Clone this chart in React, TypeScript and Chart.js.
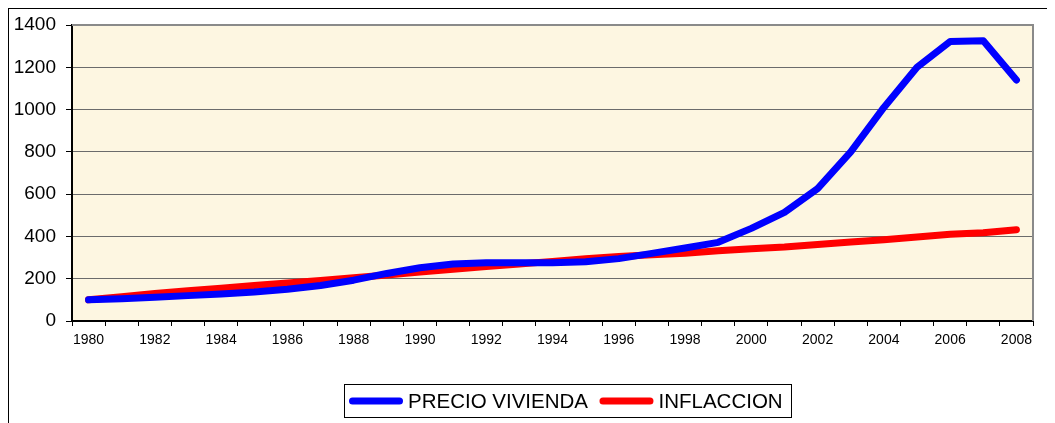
import React, { useEffect, useRef } from "react";
import { Chart, registerables } from "chart.js";

Chart.register(...registerables);

const years = [
  "1980", "1981", "1982", "1983", "1984", "1985", "1986", "1987", "1988", "1989",
  "1990", "1991", "1992", "1993", "1994", "1995", "1996", "1997", "1998", "1999",
  "2000", "2001", "2002", "2003", "2004", "2005", "2006", "2007", "2008",
];

const precioVivienda = [
  100, 105, 112, 120, 128, 137, 150, 168, 193, 225,
  252, 270, 275, 275, 275, 280, 295, 320, 345, 372,
  438, 514, 626, 800, 1010, 1200, 1322, 1325, 1140,
];

const inflaccion = [
  100, 115, 130, 143, 155, 168, 180, 192, 205, 218,
  232, 245, 258, 270, 282, 295, 305, 313, 320, 332,
  342, 350, 362, 374, 384, 397, 410, 417, 432,
];

const yTicks = [0, 200, 400, 600, 800, 1000, 1200, 1400];

const FONT = "'Liberation Sans', Arial, sans-serif";

const plotFramePlugin = {
  id: "plotFrame",
  beforeDraw(chart: any) {
    const { ctx, chartArea: a } = chart;
    ctx.save();
    ctx.fillStyle = "#FDF6E1";
    ctx.fillRect(a.left, a.top, a.right - a.left, a.bottom - a.top);
    ctx.restore();
  },
  beforeDatasetsDraw(chart: any) {
    const { ctx, chartArea: a } = chart;
    ctx.save();
    ctx.strokeStyle = "#8a8a8a";
    ctx.lineWidth = 2;
    ctx.beginPath();
    ctx.moveTo(a.left, a.top);
    ctx.lineTo(a.right, a.top);
    ctx.lineTo(a.right, a.bottom);
    ctx.stroke();
    ctx.restore();
  },
};

const boxLegendPlugin = {
  id: "boxLegend",
  afterDraw(chart: any, _args: any, opts: any) {
    const { ctx } = chart;
    const { x, y, w, h, fontSize, sample, gap, textGap } = opts;
    ctx.save();
    ctx.strokeStyle = "#000";
    ctx.lineWidth = 1;
    ctx.strokeRect(x + 0.5, y + 0.5, w, h);
    ctx.font = `${fontSize}px ${FONT}`;
    ctx.textBaseline = "middle";
    ctx.fillStyle = "#000";
    let cx = x + 8.5;
    const cy = y + h / 2 + 0.5;
    chart.data.datasets.forEach((ds: any) => {
      ctx.strokeStyle = ds.borderColor;
      ctx.lineWidth = 7;
      ctx.lineCap = "round";
      ctx.beginPath();
      ctx.moveTo(cx, cy);
      ctx.lineTo(cx + sample, cy);
      ctx.stroke();
      const tx = cx + sample + textGap;
      ctx.fillText(ds.label, tx, cy + 1);
      cx = tx + ctx.measureText(ds.label).width + gap;
    });
    ctx.restore();
  },
};

export default function App() {
  const ref = useRef<HTMLCanvasElement>(null);
  useEffect(() => {
    document.body.style.overflow = "hidden";
    const chart = new Chart(ref.current!, {
      type: "line",
      data: {
        labels: years,
        datasets: [
          {
            label: "PRECIO VIVIENDA",
            data: precioVivienda,
            borderColor: "#0000FF",
            backgroundColor: "#0000FF",
            borderWidth: 7,
            borderCapStyle: "round",
            borderJoinStyle: "round",
            pointRadius: 0,
            tension: 0,
          },
          {
            label: "INFLACCION",
            data: inflaccion,
            borderColor: "#FF0000",
            backgroundColor: "#FF0000",
            borderWidth: 7,
            borderCapStyle: "round",
            borderJoinStyle: "round",
            pointRadius: 0,
            tension: 0,
          },
        ],
      },
      options: {
        animation: false,
        responsive: false,
        maintainAspectRatio: false,
        layout: { padding: { left: 0, top: 16, right: 22, bottom: 0 } },
        plugins: {
          legend: { display: false },
          tooltip: { enabled: false },
          boxLegend: { x: 335, y: 375, w: 447, h: 33, fontSize: 20.5, sample: 47, gap: 15, textGap: 8.5 },
        } as any,
        scales: {
          x: {
            type: "category",
            offset: true,
            afterFit(scale: any) {
              scale.height = 102;
              scale.paddingLeft = 0;
              scale.paddingRight = 0;
            },
            grid: {
              offset: true,
              drawOnChartArea: false,
              drawTicks: true,
              tickLength: 5,
              tickColor: "#000",
            },
            border: { color: "#000", width: 2 },
            ticks: {
              autoSkip: false,
              maxRotation: 0,
              minRotation: 0,
              color: "#000",
              padding: 6,
              font: { family: FONT, size: 14 },
              callback: (_v: any, i: number) => (i % 2 === 0 ? years[i] : ""),
            },
          },
          y: {
            min: 0,
            max: 1400,
            afterFit(scale: any) {
              scale.width = 63;
              scale.paddingTop = 0;
              scale.paddingBottom = 0;
            },
            afterBuildTicks(scale: any) {
              scale.ticks = yTicks.map((v) => ({ value: v }));
            },
            grid: {
              color: "#6b6b6b",
              lineWidth: 1,
              drawTicks: true,
              tickLength: 6,
              tickColor: "#000",
            },
            border: { color: "#000", width: 2 },
            ticks: {
              color: "#000",
              padding: 10,
              font: { family: FONT, size: 19 },
              callback: (v: any) => String(v),
            },
          },
        },
      },
      plugins: [plotFramePlugin, boxLegendPlugin],
    });
    return () => chart.destroy();
  }, []);

  return (
    <div
      style={{
        width: 1047,
        height: 415,
        borderTop: "1px solid #000",
        borderLeft: "1px solid #000",
        boxSizing: "border-box",
      }}
    >
      <canvas ref={ref} width={1046} height={414} style={{ display: "block" }} />
    </div>
  );
}
